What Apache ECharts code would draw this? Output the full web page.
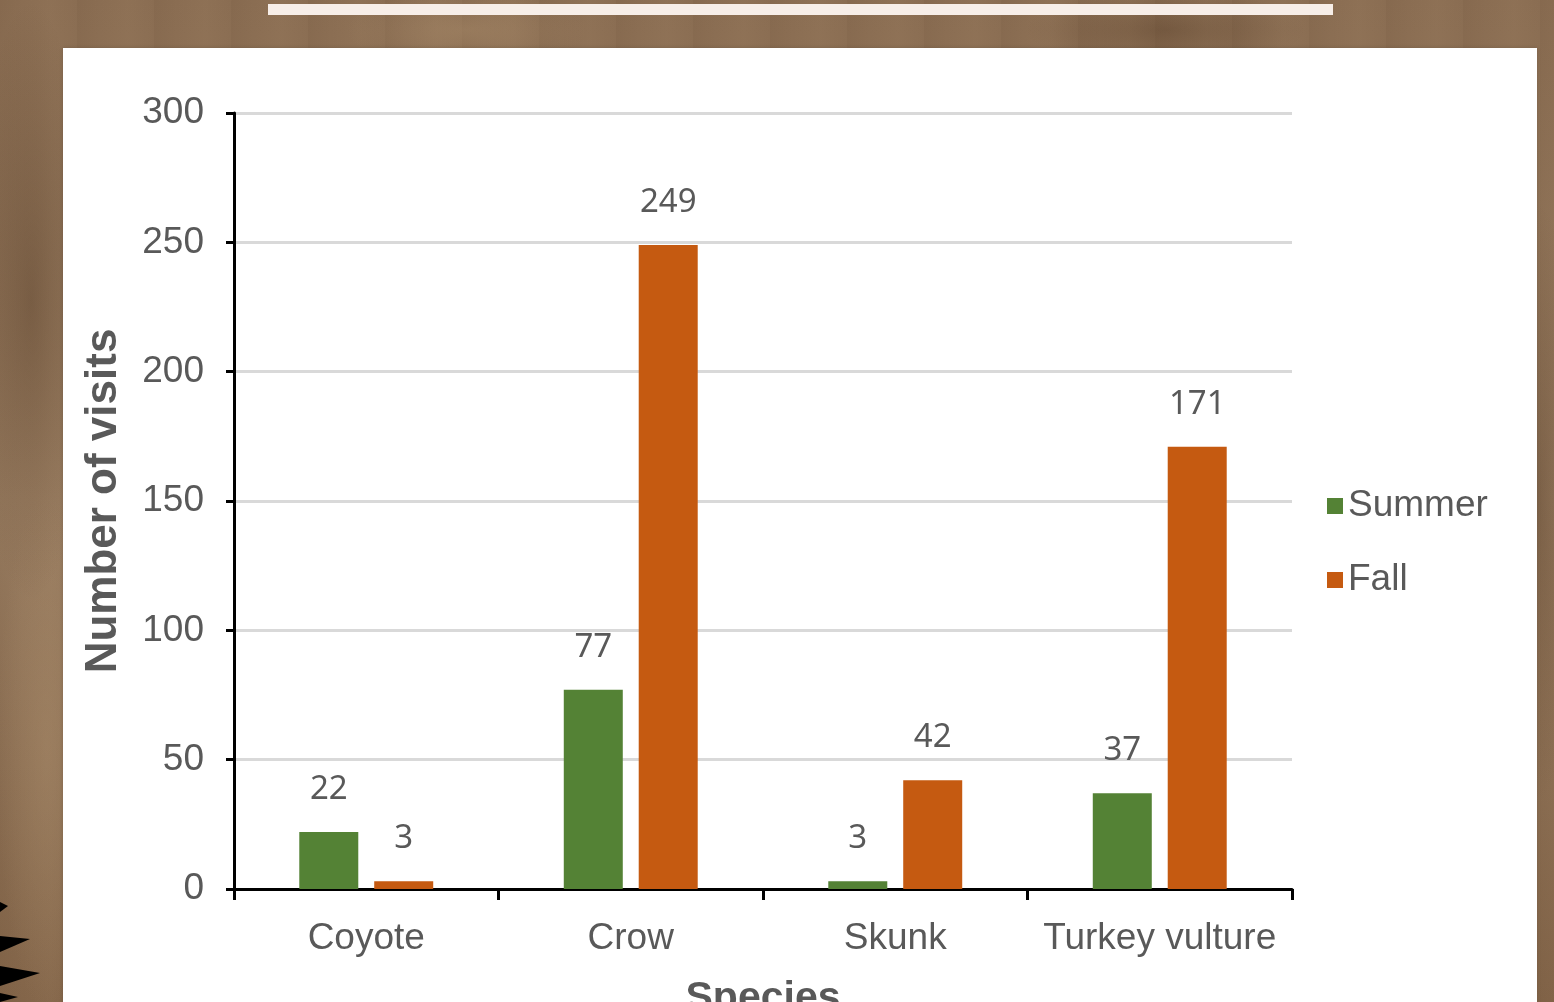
<!DOCTYPE html>
<html>
<head>
<meta charset="utf-8">
<script src="https://cdn.jsdelivr.net/npm/echarts@6/dist/echarts.min.js"></script>
<style>
  html, body { margin: 0; padding: 0; overflow: hidden; }
  #chart {
    width: 1554px; height: 1002px;
    background-color: #8f7358;
    background-image:
      radial-gradient(ellipse 60px 300px at 2% 30%, rgba(70,45,25,0.35), rgba(0,0,0,0) 100%),
      radial-gradient(ellipse 50px 260px at 3% 75%, rgba(175,145,110,0.35), rgba(0,0,0,0) 100%),
      radial-gradient(ellipse 120px 40px at 30% 3%, rgba(175,145,110,0.40), rgba(0,0,0,0) 100%),
      radial-gradient(ellipse 140px 40px at 75% 3%, rgba(70,45,25,0.30), rgba(0,0,0,0) 100%),
      radial-gradient(ellipse 40px 300px at 99% 50%, rgba(70,45,25,0.30), rgba(0,0,0,0) 100%),
      repeating-linear-gradient(90deg, rgba(70,45,25,0.06) 0px, rgba(70,45,25,0.0) 23px, rgba(190,160,125,0.07) 51px, rgba(70,45,25,0.0) 77px),
      linear-gradient(180deg, #8a6d52 0%, #987c60 50%, #836549 100%);
  }
</style>
</head>
<body>
<div id="chart"></div>
<script>
// Visits per scavenger species, by season
const species = ['Coyote', 'Crow', 'Skunk', 'Turkey vulture'];
const summerVisits = [22, 77, 3, 37];
const fallVisits = [3, 249, 42, 171];
const yTicks = { min: 0, max: 300, step: 50 };

const chart = echarts.init(document.getElementById('chart'), null, { renderer: 'canvas' });

const labelStyle = {
  show: true,
  position: 'top',
  distance: 26,
  color: '#595959',
  fontSize: 33,
  fontFamily: 'Noto Sans'
};

chart.setOption({
  animation: false,
  backgroundColor: 'transparent',
  graphic: [
    // white slide panel
    { type: 'rect', z: -10, shape: { x: 63, y: 48, width: 1474, height: 960 },
      style: { fill: '#ffffff', shadowBlur: 4, shadowColor: 'rgba(0,0,0,0.15)' } },
    // heading underline bar
    { type: 'rect', z: -10, shape: { x: 268, y: 4, width: 1065, height: 11 },
      style: { fill: '#f7eee8' } },
    // dark fronds at the lower-left edge
    { type: 'polygon', z: -9, shape: { points: [[0, 902], [8, 906], [0, 912]] }, style: { fill: '#000' } },
    { type: 'polygon', z: -9, shape: { points: [[0, 936], [30, 939], [0, 952]] }, style: { fill: '#000' } },
    { type: 'polygon', z: -9, shape: { points: [[0, 966], [40, 973], [0, 986]] }, style: { fill: '#000' } },
    { type: 'polygon', z: -9, shape: { points: [[0, 993], [18, 997], [0, 1002]] }, style: { fill: '#000' } }
  ],
  grid: { left: 234, right: 262, top: 113, bottom: 113, containLabel: false, outerBoundsMode: 'none' },
  legend: {
    orient: 'vertical',
    left: 1322,
    top: 481,
    itemWidth: 16,
    itemHeight: 16,
    itemGap: 34,
    icon: 'rect',
    textStyle: { color: '#595959', fontSize: 37, fontFamily: 'Liberation Sans', lineHeight: 40 },
    data: ['Summer', 'Fall']
  },
  xAxis: {
    type: 'category',
    data: species,
    name: 'Species',
    nameLocation: 'middle',
    nameGap: 89,
    nameTextStyle: { color: '#595959', fontSize: 41, fontWeight: 'bold', fontFamily: 'Liberation Sans' },
    axisLine: { lineStyle: { color: '#000', width: 3 } },
    axisTick: { show: true, length: 11, lineStyle: { color: '#000', width: 3 } },
    axisLabel: { color: '#595959', fontSize: 37, fontFamily: 'Liberation Sans', margin: 31, interval: 0, hideOverlap: false }
  },
  yAxis: {
    type: 'value',
    min: yTicks.min,
    max: yTicks.max,
    interval: yTicks.step,
    name: 'Number of visits',
    nameLocation: 'middle',
    nameGap: 108,
    nameTextStyle: { color: '#595959', fontSize: 44, fontWeight: 'bold', fontFamily: 'Liberation Sans' },
    axisLine: { show: true, lineStyle: { color: '#000', width: 3 } },
    axisTick: { show: true, length: 8, lineStyle: { color: '#000', width: 3 } },
    axisLabel: { color: '#595959', fontSize: 37, fontFamily: 'Liberation Sans', margin: 30 },
    splitLine: { lineStyle: { color: '#d9d9d9', width: 3 } }
  },
  series: [
    {
      name: 'Summer',
      type: 'bar',
      data: summerVisits,
      barWidth: 59,
      barGap: '27%',
      itemStyle: { color: '#548235' },
      label: labelStyle
    },
    {
      name: 'Fall',
      type: 'bar',
      data: fallVisits,
      barWidth: 59,
      barGap: '27%',
      itemStyle: { color: '#c55a11' },
      label: labelStyle
    }
  ]
});
</script>
</body>
</html>
